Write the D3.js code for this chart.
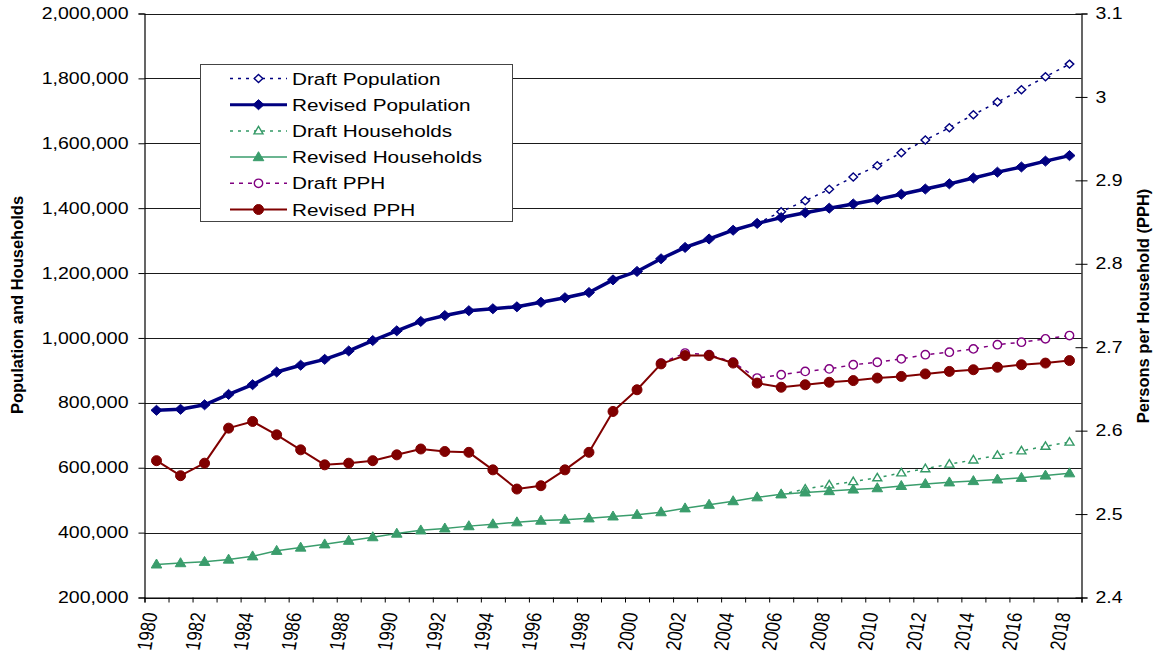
<!DOCTYPE html>
<html>
<head>
<meta charset="utf-8">
<script src="https://cdn.jsdelivr.net/npm/d3@7"></script>
<style>
  html, body { margin: 0; padding: 0; background: #fff; }
  svg { display: block; }
  text { font-family: "Liberation Sans", Arial, sans-serif; fill: #000; }
</style>
</head>
<body>
<svg id="chart" width="1154" height="658"></svg>
<script>
const years = [1980,1981,1982,1983,1984,1985,1986,1987,1988,1989,1990,1991,1992,1993,1994,1995,1996,1997,1998,1999,
  2000,2001,2002,2003,2004,2005,2006,2007,2008,2009,2010,2011,2012,2013,2014,2015,2016,2017,2018];

const revisedPopulation = [777000,780000,794000,826000,856000,895000,916000,934000,960000,992000,
  1022000,1051000,1069000,1084000,1090000,1096000,1110000,1124000,1140000,1179000,
  1205000,1244000,1279000,1305000,1332000,1353000,1371000,1386000,1400000,1413000,
  1427000,1443000,1459000,1475000,1493000,1511000,1527000,1545000,1562000];

const draftPopulation = [null,null,null,null,null,null,null,null,null,null,
  null,null,null,null,null,null,null,null,null,null,
  null,null,null,null,null,1353000,1389000,1423000,1458000,1496000,
  1531000,1571000,1610000,1648000,1688000,1727000,1765000,1805000,1844000];

const revisedHouseholds = [302000,306000,310000,317000,327000,344000,354000,364000,375000,386000,
  397000,407000,413000,420000,426000,432000,437000,440000,444000,450000,
  455000,463000,475000,486000,497000,509000,518000,524000,528000,533000,
  537000,544000,550000,555000,559000,564000,569000,576000,583000];

const draftHouseholds = [null,null,null,null,null,null,null,null,null,null,
  null,null,null,null,null,null,null,null,null,null,
  null,null,null,null,null,null,518000,534000,547000,557000,
  569000,584000,597000,611000,624000,638000,652000,666000,679000];

const revisedPPH = [2.564,2.546,2.561,2.603,2.611,2.595,2.577,2.559,2.561,2.564,
  2.571,2.578,2.575,2.574,2.553,2.530,2.534,2.553,2.574,2.623,
  2.649,2.680,2.690,2.690,2.681,2.657,2.652,2.655,2.658,2.660,
  2.663,2.665,2.668,2.671,2.673,2.676,2.679,2.681,2.684];

const draftPPH = [null,null,null,null,null,null,null,null,null,null,
  null,null,null,null,null,null,null,null,null,null,
  null,2.681,2.693,2.691,2.682,2.663,2.667,2.671,2.674,2.679,
  2.682,2.686,2.691,2.694,2.698,2.703,2.706,2.710,2.714];

const leftTicks = [200000,400000,600000,800000,1000000,1200000,1400000,1600000,1800000,2000000];
const rightTicks = [2.4,2.5,2.6,2.7,2.8,2.9,3.0,3.1];
const xLabelYears = [1980,1982,1984,1986,1988,1990,1992,1994,1996,1998,2000,2002,2004,2006,2008,2010,2012,2014,2016,2018];

const leftTitle = "Population and Households";
const rightTitle = "Persons per Household (PPH)";

const seriesDefs = [
  {name: "Draft Population",    values: draftPopulation,   axis: "L", color: "#000080", width: 1.5, dash: "3,5", marker: "diamond",  filled: false},
  {name: "Revised Population",  values: revisedPopulation, axis: "L", color: "#000080", width: 3.5, dash: null,  marker: "diamond",  filled: true},
  {name: "Draft Households",    values: draftHouseholds,   axis: "L", color: "#339966", width: 1.5, dash: "3,5", marker: "triangle", filled: false},
  {name: "Revised Households",  values: revisedHouseholds, axis: "L", color: "#3a9d6c", width: 1.5, dash: null,  marker: "triangle", filled: true},
  {name: "Draft PPH",           values: draftPPH,          axis: "R", color: "#800080", width: 1.5, dash: "4,5", marker: "circle",   filled: false},
  {name: "Revised PPH",         values: revisedPPH,        axis: "R", color: "#800000", width: 2,   dash: null,  marker: "circle",   filled: true}
];

const SX = 1.22; // horizontal stretch of the reference's text
const svg = d3.select("#chart");
const plot = {left: 144.5, right: 1081.5, top: 13.5, bottom: 597.5};

const x = d3.scaleBand().domain(years).range([plot.left, plot.right]).padding(0);
const xB = d3.scaleLinear().domain([0, years.length]).range([plot.left, plot.right]);
const yL = d3.scaleLinear().domain([200000, 2000000]).range([plot.bottom, plot.top]);
const yR = d3.scaleLinear().domain([2.4, 3.1]).range([plot.bottom, plot.top]);
const cx = d => x(d) + x.bandwidth() / 2;

// gridlines
svg.append("g").selectAll("line").data(leftTicks).join("line")
  .attr("x1", plot.left).attr("x2", plot.right)
  .attr("y1", d => Math.round(yL(d)) + 0.5).attr("y2", d => Math.round(yL(d)) + 0.5)
  .attr("stroke", "#1a1a1a").attr("stroke-width", 1);

// left axis
const gL = svg.append("g").attr("transform", `translate(${plot.left},0)`)
  .call(d3.axisLeft(yL).tickValues(leftTicks).tickSize(6).tickPadding(16 / SX - 6).tickFormat(d3.format(",")));
gL.selectAll("text").attr("transform", `scale(${SX},1)`).attr("x", -16 / SX).style("font-size", "16px");

// right axis
const gR = svg.append("g").attr("transform", `translate(${plot.right},0)`)
  .call(d3.axisRight(yR).tickValues(rightTicks).tickSize(6).tickFormat(d => String(+d.toFixed(1))));
gR.selectAll(".tick line").attr("x1", -6).attr("x2", 6);
gR.selectAll("text").attr("x", 14 / SX).attr("transform", `scale(${SX},1)`).style("font-size", "16px");

// bottom axis: boundary ticks
const gB = svg.append("g").attr("transform", `translate(0,${plot.bottom})`)
  .call(d3.axisBottom(xB).tickValues(d3.range(0, years.length + 1)).tickSize(5).tickFormat(""));
// bottom axis labels
const gBL = svg.append("g").attr("transform", `translate(0,${plot.bottom})`)
  .call(d3.axisBottom(x).tickValues(xLabelYears).tickSize(0).tickFormat(d => String(d)));
gBL.select(".domain").remove();
gBL.selectAll("text")
  .attr("x", 0).attr("y", 0).attr("dy", 0)
  .attr("text-anchor", "end")
  .attr("transform", `translate(1,16) scale(${SX},1) rotate(-82)`)
  .style("font-size", "17px");

[gL, gR, gB].forEach(g => {
  g.selectAll(".domain").attr("stroke", "#000").attr("stroke-width", 1.2);
  g.selectAll(".tick line").attr("stroke", "#000");
});
svg.selectAll(".tick text").attr("fill", "#000").attr("font-family", "Liberation Sans, Arial, sans-serif");

// marker path generator
function markerPath(type, filled) {
  if (type === "diamond") {
    const w = filled ? 5.5 : 4.3, h = filled ? 5 : 4;
    return `M0,${-h}L${w},0L0,${h}L${-w},0Z`;
  }
  if (type === "triangle") {
    const w = filled ? 5.3 : 4.5, h = filled ? 9 : 7.5;
    return `M0,${-h * 0.6}L${w},${h * 0.4}L${-w},${h * 0.4}Z`;
  }
  const r = filled ? 5 : 4.2;
  return `M${-r},0A${r},${r} 0 1,0 ${r},0A${r},${r} 0 1,0 ${-r},0Z`;
}

// series
seriesDefs.forEach(s => {
  const y = s.axis === "L" ? yL : yR;
  const pts = years.map((yr, i) => ({yr, v: s.values[i]})).filter(p => p.v != null);
  const line = d3.line().x(p => cx(p.yr)).y(p => y(p.v));
  svg.append("path").datum(pts)
    .attr("d", line).attr("fill", "none")
    .attr("stroke", s.color).attr("stroke-width", s.width)
    .attr("stroke-dasharray", s.dash)
    .attr("stroke-linejoin", "round");
  svg.append("g").selectAll("path").data(pts).join("path")
    .attr("transform", p => `translate(${cx(p.yr)},${y(p.v)})`)
    .attr("d", markerPath(s.marker, s.filled))
    .attr("fill", s.filled ? s.color : "#fff")
    .attr("stroke", s.color)
    .attr("stroke-width", s.filled ? 1 : 1.4);
});

// legend
const lg = svg.append("g");
lg.append("rect").attr("x", 200.5).attr("y", 64.5).attr("width", 312).attr("height", 157)
  .attr("fill", "#fff").attr("stroke", "#444").attr("stroke-width", 1);
seriesDefs.forEach((s, i) => {
  const yy = 78.5 + i * 26.2;
  lg.append("line").attr("x1", 230).attr("x2", 287).attr("y1", yy).attr("y2", yy)
    .attr("stroke", s.color).attr("stroke-width", s.dash ? 1.5 : Math.min(s.width, 3))
    .attr("stroke-dasharray", s.dash);
  lg.append("path").attr("transform", `translate(258.5,${yy})`)
    .attr("d", markerPath(s.marker, s.filled))
    .attr("fill", s.filled ? s.color : "#fff").attr("stroke", s.color)
    .attr("stroke-width", s.filled ? 1 : 1.4);
  lg.append("text").attr("transform", `translate(292,${yy}) scale(${SX},1)`)
    .attr("dy", "0.36em").style("font-size", "17px").text(s.name);
});

// axis titles
svg.append("text").attr("transform", "translate(17,305) rotate(-90)")
  .attr("text-anchor", "middle").attr("dy", "0.35em")
  .style("font-size", "16.5px").style("font-weight", "bold").text(leftTitle);
svg.append("text").attr("transform", "translate(1143,306) rotate(-90)")
  .attr("text-anchor", "middle").attr("dy", "0.35em")
  .style("font-size", "16.5px").style("font-weight", "bold").text(rightTitle);
</script>
</body>
</html>
